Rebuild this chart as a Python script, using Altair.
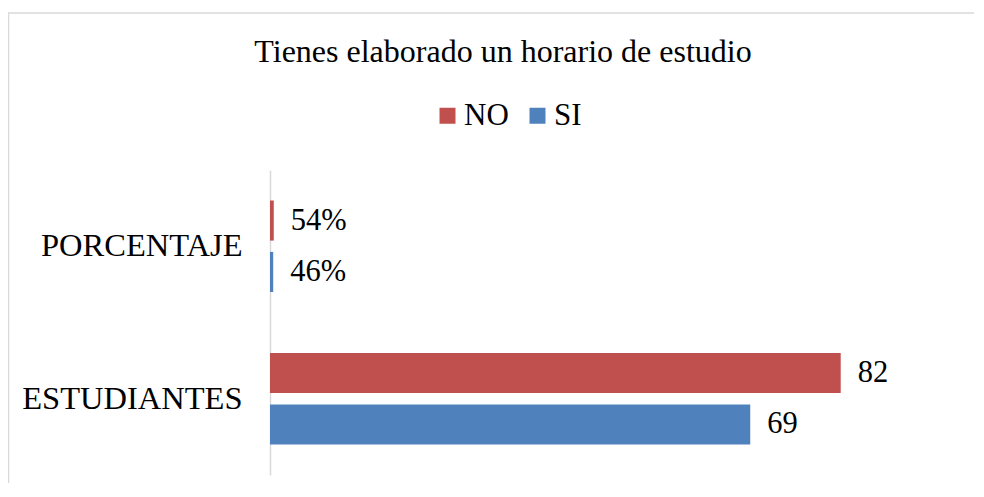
import altair as alt
import pandas as pd

FONT = "Liberation Serif"

categories = ["PORCENTAJE", "ESTUDIANTES"]
series = ["NO", "SI"]
no_values = [0.54, 82]
si_values = [0.46, 69]
colors = ["#C0504D", "#4F81BD"]
title_text = "Tienes elaborado un horario de estudio"

rows = []
for i, cat in enumerate(categories):
    for s, vals in zip(series, [no_values, si_values]):
        v = vals[i]
        label = f"{round(v * 100)}%" if cat == "PORCENTAJE" else f"{v:g}"
        rows.append({"categoria": cat, "serie": s, "valor": v, "etiqueta": label})
df = pd.DataFrame(rows)

base = alt.Chart(df).encode(
    y=alt.Y(
        "categoria:N",
        sort=categories,
        scale=alt.Scale(paddingInner=0.4, paddingOuter=0.2),
        axis=alt.Axis(
            title=None,
            ticks=False,
            labelFont=FONT,
            labelFontSize=32.5,
            labelColor="black",
            labelPadding=28,
            labelLimit=0,
            domainColor="#D9D9D9",
            domainWidth=1.5,
        ),
    ),
    yOffset=alt.YOffset(
        "serie:N", sort=series, scale=alt.Scale(paddingInner=0.22, paddingOuter=0)
    ),
)

bars = base.mark_bar().encode(
    x=alt.X("valor:Q", scale=alt.Scale(domain=[0, 100]), axis=None),
    color=alt.Color(
        "serie:N",
        sort=series,
        scale=alt.Scale(domain=series, range=colors),
        legend=alt.Legend(
            title=None,
            orient="none",
            legendX=162,
            legendY=-70,
            direction="horizontal",
            symbolType="square",
            symbolSize=256,
            symbolStrokeWidth=0,
            labelFont=FONT,
            labelFontSize=31,
            labelColor="black",
            labelOffset=1,
            columnPadding=13,
            padding=0,
        ),
    ),
)

text = base.mark_text(
    align="left", baseline="middle", dx=17, font=FONT, fontSize=30.5, color="black"
).encode(x=alt.X("valor:Q"), text=alt.Text("etiqueta:N"))

frame = alt.Chart(pd.DataFrame({"f": [0]})).mark_rect(
    fillOpacity=0, stroke="#D9D9D9", strokeWidth=1.5
).encode(
    x=alt.value(-261.5), x2=alt.value(900), y=alt.value(-157), y2=alt.value(600)
)

chart = alt.layer(frame, bars, text).properties(
    width=696,
    height=305,
    autosize=alt.AutoSizeParams(type="none"),
    padding={"left": 262, "top": 162, "right": 8, "bottom": 8},
    title=alt.Title(
        title_text,
        font=FONT,
        fontSize=32,
        fontWeight="normal",
        color="black",
        anchor="middle",
        dx=-115,
        dy=57,
        offset=0,
    ),
).configure_view(stroke=None)

chart.save("out.html", embed_options={"renderer": "svg", "actions": False})
